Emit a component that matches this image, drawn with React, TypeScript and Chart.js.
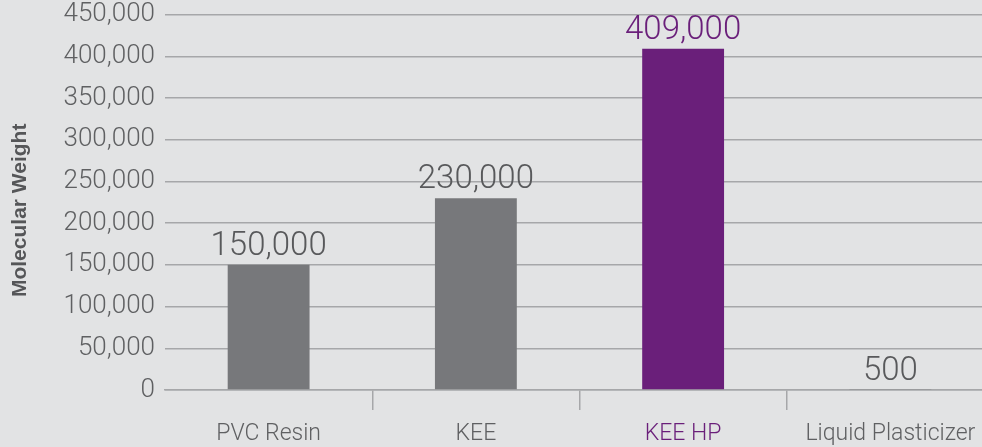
import React, { useEffect, useRef } from "react";
import { Chart, registerables } from "chart.js";

Chart.register(...registerables);

const categories = ["PVC Resin", "KEE", "KEE HP", "Liquid Plasticizer"];
const values = [150000, 230000, 409000, 500];
const valueLabels = ["150,000", "230,000", "409,000", "500"];
const barColors = ["#77787b", "#77787b", "#6a1f7a", "#77787b"];
const labelColors = ["#58595b", "#58595b", "#6a1f7a", "#58595b"];
const xTickColors = ["#5f6062", "#5f6062", "#6a1f7a", "#5f6062"];
const yTicksMax = 450000;
const yStep = 50000;
const yTitle = "Molecular Weight";

const BG = "#e2e3e4";
const GRID = "#a6a7a9";
const FONT = "Roboto, 'Liberation Sans', sans-serif";

const valueLabelPlugin = {
  id: "valueLabels",
  afterDatasetsDraw(chart: any) {
    const ctx = chart.ctx;
    const meta = chart.getDatasetMeta(0);
    ctx.save();
    ctx.font = `300 33px ${FONT}`;
    ctx.textAlign = "center";
    ctx.textBaseline = "alphabetic";
    meta.data.forEach((el: any, i: number) => {
      ctx.fillStyle = labelColors[i];
      ctx.fillText(valueLabels[i], el.x, el.y - 10);
    });
    ctx.restore();
  },
};

const yTitlePlugin = {
  id: "yTitleCustom",
  afterDraw(chart: any) {
    const ctx = chart.ctx;
    const area = chart.chartArea;
    ctx.save();
    ctx.translate(20, (area.top + area.bottom) / 2 + 8);
    ctx.rotate(-Math.PI / 2);
    ctx.font = `bold 21px 'Liberation Sans', Arial, sans-serif`;
    ctx.fillStyle = "#555658";
    ctx.textAlign = "center";
    ctx.textBaseline = "middle";
    ctx.fillText(yTitle, 0, 0);
    ctx.restore();
  },
};

export default function App() {
  const ref = useRef<HTMLCanvasElement | null>(null);
  useEffect(() => {
    document.body.style.margin = "0";
    document.body.style.background = BG;
    const chart = new Chart(ref.current as HTMLCanvasElement, {
      type: "bar",
      data: {
        labels: categories,
        datasets: [
          {
            data: values,
            backgroundColor: barColors,
            barPercentage: 0.395,
            categoryPercentage: 1,
          },
        ],
      },
      plugins: [valueLabelPlugin, yTitlePlugin],
      options: {
        animation: false,
        responsive: false,
        maintainAspectRatio: false,
        layout: { padding: { top: 0, right: 2, bottom: 0, left: 0 } },
        plugins: { legend: { display: false }, tooltip: { enabled: false } },
        scales: {
          x: {
            offset: true,
            border: { display: true, color: GRID, width: 1.5 },
            grid: {
              offset: true,
              drawOnChartArea: false,
              drawTicks: true,
              tickLength: 20,
              lineWidth: 1.5,
              color: (c: any) => (c.index === 0 ? "rgba(0,0,0,0)" : GRID),
            },
            ticks: {
              autoSkip: false,
              maxRotation: 0,
              padding: 10,
              color: xTickColors,
              font: { family: FONT, size: 23, weight: "300" },
            },
            afterFit: (s: any) => {
              s.height = 57;
            },
          },
          y: {
            min: 0,
            max: yTicksMax,
            border: { display: false },
            grid: { color: GRID, lineWidth: 1.5, drawTicks: false },
            ticks: {
              stepSize: yStep,
              padding: 10,
              color: "#5f6062",
              font: { family: FONT, size: 26, weight: "300" },
              callback: (v: any) => Number(v).toLocaleString("en-US"),
            },
            afterFit: (s: any) => {
              s.width = 165;
            },
          },
        },
      },
    });
    return () => chart.destroy();
  }, []);
  return (
    <div
      style={{
        position: "fixed",
        left: 0,
        top: 0,
        width: 982,
        height: 447,
        overflow: "hidden",
        background: BG,
      }}
    >
      <canvas
        ref={ref}
        width={996}
        height={458}
        style={{ display: "block", marginTop: -11 }}
      />
    </div>
  );
}
